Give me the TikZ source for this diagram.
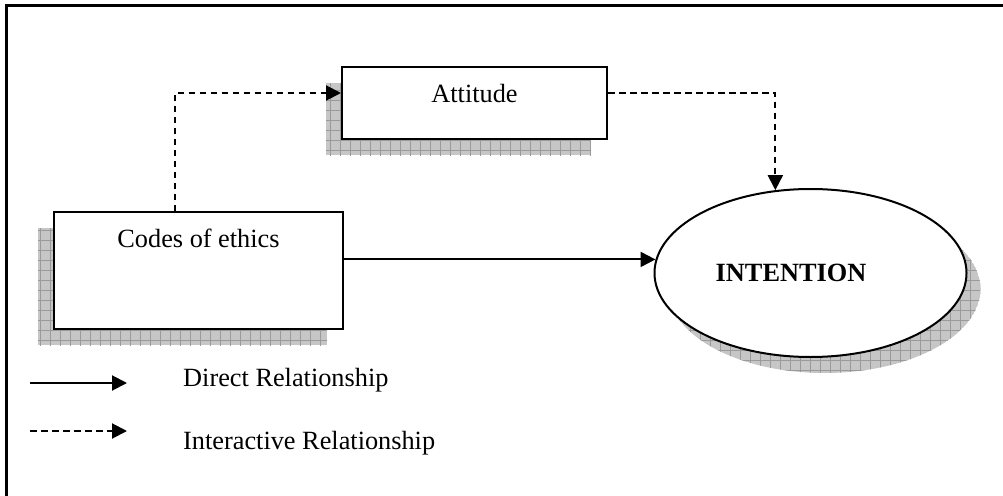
\documentclass[tikz,border=0pt]{standalone}
\usepackage{fontspec}
\setmainfont{Liberation Serif}
\usetikzlibrary{arrows.meta,calc,shapes.geometric}
\definecolor{shadowfill}{HTML}{C6C6C6}
\definecolor{shadowgrid}{HTML}{9A9A9A}
% grey cross-hatched drop shadow for a closed path
\newcommand\meshshadow[1]{%
  \begin{scope}
    \clip #1;
    \fill[shadowfill] #1;
    \draw[shadowgrid,line width=0.6pt] (0,0) grid[step=10pt] (1003,495);
  \end{scope}}
\begin{document}
\begin{tikzpicture}[x=1pt,y=-1pt,
  every node/.style={font=\fontsize{26.3}{30}\selectfont},
  boxnode/.style={draw,line width=2pt,fill=white,inner sep=0pt},
  ovalnode/.style={ellipse,draw,line width=2pt,fill=white,inner sep=0pt},
  txt/.style={inner sep=0pt},
  link/.style={line width=2pt,-{Triangle[length=15pt,width=15pt]}},
  dashlink/.style={link,dash pattern=on 6.5pt off 4.5pt}]
  \useasboundingbox (0,0) rectangle (1003,495);
  \clip (0,0) rectangle (1003,495);
  % outer frame
  \draw[line width=3pt] (6.5,5.5) rectangle (1030,530);

  % shadows
  \meshshadow{(326,83) rectangle (591,155)}
  \meshshadow{(38,228) rectangle (327,345)}
  \meshshadow{(824.5,289) ellipse [x radius=156pt, y radius=84pt]}

  % boxes
  \node[boxnode,minimum width=265pt,minimum height=72pt] (attitude) at (474.5,103) {};
  \node[txt,anchor=base] (attlabel) at (474.5,102.7) {Attitude};
  \node[boxnode,minimum width=289pt,minimum height=117pt] (codes) at (198.5,270.5) {};
  \node[txt,anchor=base] (codeslabel) at (198.5,247.3) {Codes of ethics};
  \node[ovalnode,minimum width=312pt,minimum height=168pt] (intention) at (810.5,273) {};
  \node[txt,anchor=base] (intlabel) at (791,281.7) {\bfseries INTENTION};

  % relationships
  \coordinate (codestop) at ($(codes.north west)!0.418!(codes.north east)$);
  \draw[dashlink] (codestop) |- ($(attitude.west)+(0,-10)$);
  \draw[dashlink] ($(attitude.east)+(0,-10)$) -| (intention.113.5);
  \draw[link] (codes.east |- intention.175.6) -- (intention.175.6);

  % legend
  \coordinate (lega) at (30,383);
  \coordinate (legb) at (127,383);
  \coordinate (legc) at (30,431);
  \coordinate (legd) at (127,431);
  \draw[link] (lega) -- (legb);
  \draw[dashlink] (legc) -- (legd);
  \node[txt,anchor=base west] (legdirect) at (183,386.7) {Direct Relationship};
  \node[txt,anchor=base west] (leginter) at (183,449.3) {Interactive Relationship};
\end{tikzpicture}
\end{document}
